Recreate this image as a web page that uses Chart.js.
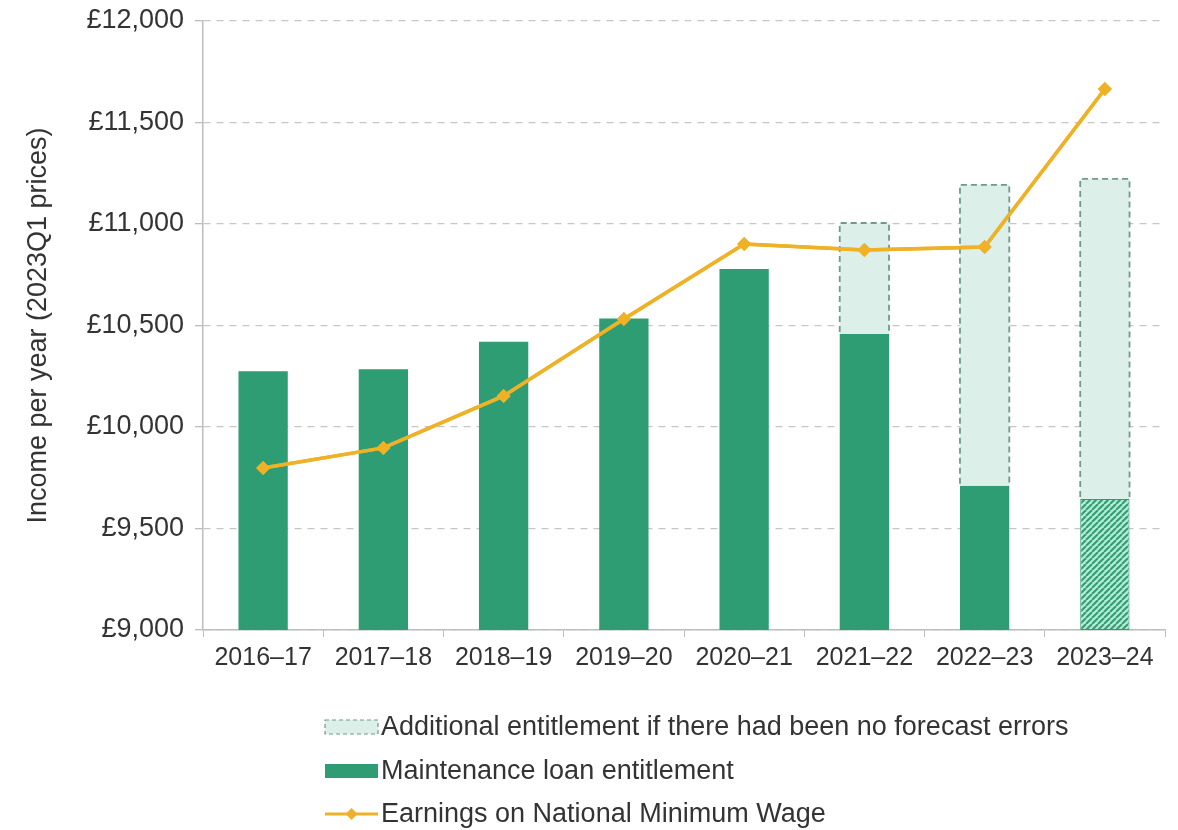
<!DOCTYPE html>
<html>
<head>
<meta charset="utf-8">
<script src="https://cdn.jsdelivr.net/npm/chart.js@4.4.1/dist/chart.umd.min.js"></script>
<style>
    html, body { margin: 0; padding: 0; background: #fff; }
    #wrap { width: 1178px; height: 830px; position: relative; }
</style>
</head>
<body>
<div id="wrap"><canvas id="chart"></canvas></div>
<script>

const years = [ '2016–17', '2017–18', '2018–19', '2019–20', '2020–21', '2021–22', '2022–23', '2023–24' ];

// maintenance loan entitlement (2023Q1 prices)
const loanEntitlement = [ 10275, 10285, 10420, 10535, 10778, 10458, 9710, 9645 ];

// extra on top of the loan if there had been no forecast errors
const additionalEntitlement = [ null, null, null, null, null, 547, 1483, 1577 ];

// earnings on National Minimum Wage
const nmwEarnings = [ 9798, 9897, 10153, 10532, 10901, 10872, 10887, 11665 ];

const yTicks = [ 9000, 9500, 10000, 10500, 11000, 11500, 12000 ];

const legendLabels = [
    'Additional entitlement if there had been no forecast errors',
    'Maintenance loan entitlement',
    'Earnings on National Minimum Wage'
];

const AXIS_MIN = 9000;

const GREEN = '#2f9d73',
      MINT = '#dcefe8',
      DASH = '#6f9a8c',
      GOLD = '#efb126',
      TEXT = '#333333',
      FONT = '"Liberation Sans", Arial, sans-serif';

/**
 * Builds the diagonal hatch used for the last (forecast) loan bar.
 */
function makeHatch () {

    const c = document.createElement( 'canvas' );
    c.width = 6; c.height = 6;
    const ctx = c.getContext( '2d' );

    ctx.fillStyle = '#b9e8d4';
    ctx.fillRect( 0, 0, 6, 6 );
    ctx.strokeStyle = GREEN;
    ctx.lineWidth = 2;

    // lines running bottom-left to top-right
    [ -6, 0, 6 ].forEach( o => {
        ctx.beginPath();
        ctx.moveTo( o, 6 );
        ctx.lineTo( o + 6, 0 );
        ctx.stroke();
    } );

    return ctx.createPattern( c, 'repeat' );

}

const hatch = makeHatch();

// floating bars so they can sit on a non-zero axis
const loanBars = loanEntitlement.map( v => [ AXIS_MIN, v ] );
const extraBars = additionalEntitlement.map( ( a, i ) =>
    a == null ? null : [ loanEntitlement[ i ], loanEntitlement[ i ] + a ] );

// dashed outline for the "additional" bars, Chart.js bars have no borderDash
const dashedBars = {
    id: 'dashedBars',
    afterDatasetsDraw ( chart ) {

        const ctx = chart.ctx;
        const meta = chart.getDatasetMeta( 0 );

        ctx.save();
        ctx.strokeStyle = DASH;
        ctx.lineWidth = 1.8;
        ctx.setLineDash( [ 6, 4 ] );

        meta.data.forEach( ( bar, i ) => {
            if ( extraBars[ i ] == null ) return;
            const p = bar.getProps( [ 'x', 'y', 'base', 'width' ], true );
            const l = p.x - p.width / 2, r = p.x + p.width / 2;
            ctx.beginPath();
            ctx.moveTo( l, p.base - 2 );
            ctx.lineTo( l, p.y );
            ctx.lineTo( r, p.y );
            ctx.lineTo( r, p.base - 2 );
            ctx.stroke();
        } );

        ctx.restore();

        // redraw the line on top of the outlines
        chart.getDatasetMeta( 2 ).controller.draw();

    }
};

// vertical legend under the x axis
const stackedLegend = {
    id: 'stackedLegend',
    afterDraw ( chart ) {

        const ctx = chart.ctx;
        const x0 = 325, x1 = 378, tx = 381;
        const rows = [ 727, 771, 814 ];

        ctx.save();

        // dashed mint box
        ctx.fillStyle = MINT;
        ctx.fillRect( x0, rows[ 0 ] - 7, x1 - x0, 14 );
        ctx.strokeStyle = DASH;
        ctx.lineWidth = 1.2;
        ctx.setLineDash( [ 4, 3 ] );
        ctx.strokeRect( x0, rows[ 0 ] - 7, x1 - x0, 14 );
        ctx.setLineDash( [] );

        // solid green box
        ctx.fillStyle = GREEN;
        ctx.fillRect( x0, rows[ 1 ] - 7, x1 - x0, 14 );

        // line with diamond
        ctx.strokeStyle = GOLD;
        ctx.lineWidth = 3;
        ctx.beginPath();
        ctx.moveTo( x0, rows[ 2 ] );
        ctx.lineTo( x1, rows[ 2 ] );
        ctx.stroke();
        ctx.fillStyle = GOLD;
        ctx.beginPath();
        const cx = ( x0 + x1 ) / 2;
        ctx.moveTo( cx, rows[ 2 ] - 6 );
        ctx.lineTo( cx + 6, rows[ 2 ] );
        ctx.lineTo( cx, rows[ 2 ] + 6 );
        ctx.lineTo( cx - 6, rows[ 2 ] );
        ctx.closePath();
        ctx.fill();

        ctx.fillStyle = TEXT;
        ctx.font = '27px ' + FONT;
        ctx.textBaseline = 'middle';
        ctx.textAlign = 'left';
        legendLabels.forEach( ( t, i ) => ctx.fillText( t, tx, rows[ i ] + 1 ) );

        ctx.restore();

    }
};

Chart.defaults.font.family = FONT;
Chart.defaults.color = TEXT;

new Chart( document.getElementById( 'chart' ).getContext( '2d' ), {
    type: 'bar',
    data: {
        labels: years,
        datasets: [
            {
                label: legendLabels[ 0 ],
                data: extraBars,
                backgroundColor: MINT,
                borderWidth: 0,
                grouped: false,
                order: 2,
                barPercentage: 0.41,
                categoryPercentage: 1
            },
            {
                label: legendLabels[ 1 ],
                data: loanBars,
                backgroundColor: years.map( ( _, i ) => i === years.length - 1 ? hatch : GREEN ),
                borderColor: GREEN,
                borderWidth: years.map( ( _, i ) => i === years.length - 1 ? 1 : 0 ),
                borderSkipped: false,
                grouped: false,
                order: 3,
                barPercentage: 0.41,
                categoryPercentage: 1
            },
            {
                type: 'line',
                label: legendLabels[ 2 ],
                data: nmwEarnings,
                borderColor: GOLD,
                backgroundColor: GOLD,
                borderWidth: 3.5,
                pointStyle: 'rectRot',
                pointRadius: 7,
                pointHoverRadius: 7,
                pointBorderWidth: 0,
                tension: 0,
                order: 1
            }
        ]
    },
    options: {
        responsive: true,
        maintainAspectRatio: false,
        animation: false,
        layout: { padding: { top: 21, right: 13, left: 0, bottom: 0 } },
        plugins: {
            legend: { display: false },
            tooltip: { enabled: false }
        },
        scales: {
            x: {
                grid: {
                    drawOnChartArea: false,
                    drawTicks: true,
                    tickLength: 7,
                    color: '#bdbdbd',
                    offset: true
                },
                border: { color: '#bdbdbd', width: 1.5 },
                ticks: {
                    font: { size: 25 },
                    color: TEXT,
                    padding: 6,
                    maxRotation: 0
                },
                afterFit: s => { s.height = 200; }
            },
            y: {
                min: AXIS_MIN,
                max: 12000,
                afterBuildTicks: s => { s.ticks = yTicks.map( v => ( { value: v } ) ); },
                grid: {
                    color: '#c6c6c6',
                    lineWidth: 1.3,
                    tickLength: 8,
                    tickColor: '#bdbdbd'
                },
                border: { color: '#bdbdbd', width: 1.5, dash: [ 7, 6 ] },
                ticks: {
                    font: { size: 27 },
                    color: TEXT,
                    padding: 11,
                    callback: v => '£' + Number( v ).toLocaleString( 'en-GB' )
                },
                title: {
                    display: true,
                    text: 'Income per year (2023Q1 prices)',
                    font: { size: 27 },
                    color: TEXT,
                    padding: { top: 22, bottom: 0 }
                },
                afterFit: s => {
                    s.width = 203;
                    s.paddingTop = 0;
                    s.paddingBottom = 0;
                }
            }
        }
    },
    plugins: [ dashedBars, stackedLegend ]
} );

</script>
</body>
</html>
